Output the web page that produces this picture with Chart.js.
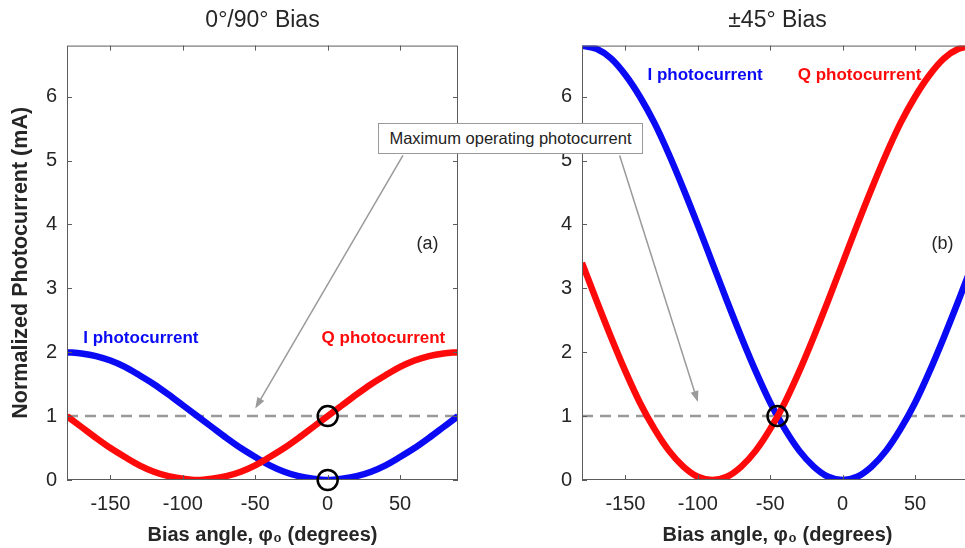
<!DOCTYPE html>
<html>
<head>
<meta charset="utf-8">
<script src="https://cdn.jsdelivr.net/npm/chart.js@4"></script>
<style>
  html, body { margin: 0; padding: 0; background: #fff; overflow: hidden; width: 965px; height: 548px; position: relative; }
  canvas { position: absolute; top: 0; }
  #left { left: 0; }
  #right { left: 500px; }
  #note {
    position: absolute; left: 378px; top: 123px; width: 263px; height: 29px;
    border: 1px solid #9a9a9a; background: #fff; color: #222; z-index: 2;
    font: 16.5px "Liberation Sans", Arial, sans-serif; line-height: 29px; text-align: center;
  }
</style>
</head>
<body>
<canvas id="left" width="480" height="548"></canvas>
<canvas id="right" width="500" height="548"></canvas>
<div id="note">Maximum operating photocurrent</div>
<script>
// bias angle (degrees)
const angles = [-180, -170, -160, -150, -140, -130, -120, -110, -100, -90, -80, -70, -60, -50,
  -40, -30, -20, -10, 0, 10, 20, 30, 40, 50, 60, 70, 80, 90];

// (a) 0/90 bias
const iBiasA = [2.00, 1.98, 1.94, 1.87, 1.77, 1.64, 1.50, 1.34, 1.17, 1.00, 0.83, 0.66, 0.50, 0.36,
  0.23, 0.13, 0.06, 0.02, 0.00, 0.02, 0.06, 0.13, 0.23, 0.36, 0.50, 0.66, 0.83, 1.00];
const qBiasA = [1.00, 0.83, 0.66, 0.50, 0.36, 0.23, 0.13, 0.06, 0.02, 0.00, 0.02, 0.06, 0.13, 0.23,
  0.36, 0.50, 0.66, 0.83, 1.00, 1.17, 1.34, 1.50, 1.64, 1.77, 1.87, 1.94, 1.98, 2.00];

// (b) +-45 bias
const iBiasB = [6.80, 6.75, 6.60, 6.34, 6.00, 5.59, 5.10, 4.56, 3.99, 3.40, 2.81, 2.24, 1.70, 1.21,
  0.80, 0.46, 0.21, 0.05, 0.00, 0.05, 0.21, 0.46, 0.80, 1.21, 1.70, 2.24, 2.81, 3.40];
const qBiasB = [3.40, 2.81, 2.24, 1.70, 1.21, 0.80, 0.46, 0.21, 0.05, 0.00, 0.05, 0.21, 0.46, 0.80,
  1.21, 1.70, 2.24, 2.81, 3.40, 3.99, 4.56, 5.10, 5.59, 6.00, 6.34, 6.60, 6.75, 6.80];

const maxLevel = 1;            // maximum operating photocurrent
const xTicks = [-150, -100, -50, 0, 50];
const yTicks = [0, 1, 2, 3, 4, 5, 6];

const FONT = '"Liberation Sans", Arial, sans-serif';
const BLUE = '#0a0af5';
const RED = '#ff0a0a';
const INK = '#262626';

function arrow(ctx, x0, y0, x1, y1) {
  const ang = Math.atan2(y1 - y0, x1 - x0), len = 11, w = 4;
  ctx.beginPath();
  ctx.moveTo(x0, y0);
  ctx.lineTo(x1 - Math.cos(ang) * len * 0.8, y1 - Math.sin(ang) * len * 0.8);
  ctx.stroke();
  ctx.beginPath();
  ctx.moveTo(x1, y1);
  ctx.lineTo(x1 - Math.cos(ang) * len + Math.sin(ang) * w, y1 - Math.sin(ang) * len - Math.cos(ang) * w);
  ctx.lineTo(x1 - Math.cos(ang) * len - Math.sin(ang) * w, y1 - Math.sin(ang) * len + Math.cos(ang) * w);
  ctx.closePath();
  ctx.fill();
}

// matlab style box with inward ticks, plus the annotations
const frame = {
  id: 'frame',
  afterDraw(chart) {
    const { ctx, chartArea: a, scales: { x, y } } = chart;
    const m = chart.options.plugins.marks;
    ctx.save();
    ctx.strokeStyle = '#5c5c5c';
    ctx.lineWidth = 1;
    ctx.strokeRect(a.left + 0.5, a.top + 0.5, a.right - a.left - 1, a.bottom - a.top - 1);
    ctx.beginPath();
    x.ticks.forEach(t => {
      const px = Math.round(x.getPixelForValue(t.value)) + 0.5;
      ctx.moveTo(px, a.bottom); ctx.lineTo(px, a.bottom - 5);
      ctx.moveTo(px, a.top); ctx.lineTo(px, a.top + 5);
    });
    y.ticks.forEach(t => {
      const py = Math.round(y.getPixelForValue(t.value)) + 0.5;
      ctx.moveTo(a.left, py); ctx.lineTo(a.left + 5, py);
      ctx.moveTo(a.right, py); ctx.lineTo(a.right - 5, py);
    });
    ctx.stroke();

    // circles
    ctx.strokeStyle = '#000';
    ctx.lineWidth = 2.5;
    m.circles.forEach(c => {
      ctx.beginPath();
      ctx.arc(x.getPixelForValue(c[0]), y.getPixelForValue(c[1]), 10, 0, Math.PI * 2);
      ctx.stroke();
    });

    // arrow from the note box
    ctx.strokeStyle = '#9a9a9a';
    ctx.fillStyle = '#9a9a9a';
    ctx.lineWidth = 1.5;
    const ar = m.arrow;
    arrow(ctx, x.getPixelForValue(ar[0]), y.getPixelForValue(ar[1]),
      x.getPixelForValue(ar[2]), y.getPixelForValue(ar[3]));

    // labels
    ctx.textAlign = 'center';
    ctx.textBaseline = 'middle';
    m.labels.forEach(l => {
      ctx.font = l.font;
      ctx.fillStyle = l.color;
      ctx.fillText(l.text, x.getPixelForValue(l.x), y.getPixelForValue(l.y));
    });
    ctx.restore();
  }
};

function makeChart(id, title, iVals, qVals, yAxisW, rightPad, yTitle, marks) {
  return new Chart(document.getElementById(id), {
    type: 'line',
    data: {
      datasets: [
        { label: 'I photocurrent', data: angles.map((a, k) => ({ x: a, y: iVals[k] })),
          borderColor: BLUE, borderWidth: 6.5, pointRadius: 0, cubicInterpolationMode: 'monotone', order: 1 },
        { label: 'Q photocurrent', data: angles.map((a, k) => ({ x: a, y: qVals[k] })),
          borderColor: RED, borderWidth: 6.5, pointRadius: 0, cubicInterpolationMode: 'monotone', order: 0 },
        { label: 'Maximum operating photocurrent',
          data: [{ x: angles[0], y: maxLevel }, { x: angles[angles.length - 1], y: maxLevel }],
          borderColor: '#999', borderWidth: 2.5, borderDash: [11, 7], pointRadius: 0, order: 2 }
      ]
    },
    options: {
      responsive: false,
      animation: false,
      layout: { padding: { left: 0, right: rightPad, top: 0, bottom: 0 } },
      plugins: {
        legend: { display: false },
        tooltip: { enabled: false },
        title: { display: true, text: title, fullSize: false, color: INK,
          font: { family: FONT, size: 23, weight: 'normal' }, padding: { top: 7, bottom: 11 } },
        marks: marks
      },
      scales: {
        x: {
          type: 'linear', min: -180, max: 90,
          afterBuildTicks: s => { s.ticks = xTicks.map(v => ({ value: v })); },
          afterFit: s => { s.height = 68; },
          grid: { display: false, drawTicks: false },
          border: { display: false },
          ticks: { color: INK, padding: 12, font: { family: FONT, size: 20 } },
          title: { display: true, text: 'Bias angle, φ₀ (degrees)', color: INK,
            font: { family: FONT, size: 20, weight: 'bold' }, padding: { top: 0, bottom: 1 } }
        },
        y: {
          type: 'linear', min: 0, max: 6.8,
          afterBuildTicks: s => { s.ticks = yTicks.map(v => ({ value: v })); },
          afterFit: s => { s.width = yAxisW; },
          grid: { display: false, drawTicks: false },
          border: { display: false },
          ticks: { color: INK, padding: 10, font: { family: FONT, size: 20 } },
          title: { display: yTitle !== '', text: yTitle, color: INK,
            font: { family: FONT, size: 21.5, weight: 'bold' }, padding: { top: 8, bottom: 0 } }
        }
      }
    },
    plugins: [frame]
  });
}

const bold17 = 'bold 17px ' + FONT;
const reg18 = '18px ' + FONT;

makeChart('left', '0°/90° Bias', iBiasA, qBiasA, 67, 22, 'Normalized Photocurrent (mA)', {
  circles: [[0, 1], [0, 0]],
  arrow: [52, 5.08, -50, 1.12],
  labels: [
    { text: 'I photocurrent', x: -129, y: 2.22, color: BLUE, font: bold17 },
    { text: 'Q photocurrent', x: 38.5, y: 2.22, color: RED, font: bold17 },
    { text: '(a)', x: 69, y: 3.7, color: INK, font: reg18 }
  ]
});

makeChart('right', '±45° Bias', iBiasB, qBiasB, 82, 27, '', {
  circles: [[-45, 1]],
  arrow: [-154, 5.08, -100, 1.22],
  labels: [
    { text: 'I photocurrent', x: -95, y: 6.34, color: BLUE, font: bold17 },
    { text: 'Q photocurrent', x: 11.7, y: 6.34, color: RED, font: bold17 },
    { text: '(b)', x: 69, y: 3.7, color: INK, font: reg18 }
  ]
});
</script>
</body>
</html>
